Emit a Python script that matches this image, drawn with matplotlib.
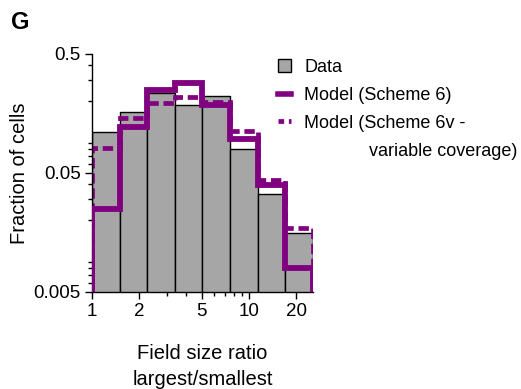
import numpy as np
import matplotlib
matplotlib.use('Agg')
import matplotlib.pyplot as plt
from matplotlib.patches import Patch
from matplotlib.lines import Line2D

plt.rcParams['font.family'] = ['Liberation Sans', 'DejaVu Sans']

# bin edges (field size ratio, log spaced by 1.5)
bin_edges = [1.0, 1.5, 2.25, 3.375, 5.06, 7.59, 11.39, 17.09, 25.6]
# fraction of cells per bin
data_frac = [0.106, 0.159, 0.229, 0.183, 0.216, 0.076, 0.029, 0.0116]
model_s6 = [0.0248, 0.121, 0.249, 0.284, 0.186, 0.096, 0.0396, 0.0079]
model_s6v = [0.081, 0.146, 0.195, 0.219, 0.199, 0.113, 0.044, 0.0171]

x_ticks = [1, 2, 5, 10, 20]
x_minor = [3, 4, 6, 7, 8, 9]
y_ticks = [0.005, 0.05, 0.5]
y_labels = ['0.005', '0.05', '0.5']

purple = '#800080'
gray = '#a6a6a6'

fig = plt.figure(figsize=(5.21, 3.89), dpi=100)
ax = fig.add_axes([0.1766, 0.2494, 0.424, 0.612])

edges = np.array(bin_edges)
ax.bar(edges[:-1], data_frac, width=np.diff(edges), align='edge', bottom=0.004,
       color=gray, edgecolor='black', linewidth=1.0, zorder=1)
ax.stairs(model_s6v, edges, baseline=0.004, color=purple, linewidth=3.4,
          linestyle=(0, (2.2, 1.0)), zorder=2)
ax.stairs(model_s6, edges, baseline=0.004, color=purple, linewidth=4.2, zorder=3)

ax.set_xscale('log')
ax.set_yscale('log')
ax.set_xlim(1, 25.6)
ax.set_ylim(0.005, 0.5)

ax.set_xticks(x_ticks)
ax.set_xticklabels([str(t) for t in x_ticks])
ax.set_xticks(x_minor, minor=True)
ax.xaxis.set_minor_formatter(matplotlib.ticker.NullFormatter())
ax.set_yticks(y_ticks)
ax.set_yticklabels(y_labels)
ax.yaxis.set_minor_locator(matplotlib.ticker.LogLocator(base=10, subs=np.arange(2, 10)))
ax.yaxis.set_minor_formatter(matplotlib.ticker.NullFormatter())

ax.tick_params(which='major', length=5, width=1, labelsize=13.5, pad=3)
ax.tick_params(which='minor', length=3, width=1)
for s in ['top', 'right']:
    ax.spines[s].set_visible(False)
ax.spines['left'].set_linewidth(1)
ax.spines['bottom'].set_linewidth(1)

ax.set_ylabel('Fraction of cells', fontsize=14.5, labelpad=3)
ax.set_xlabel('Field size ratio\nlargest/smallest', fontsize=14.5, labelpad=17,
              linespacing=1.5)

fig.text(0.022, 0.972, 'G', fontsize=17, fontweight='bold', va='top', ha='left')

handles = [Patch(facecolor=gray, edgecolor='black', linewidth=1.0),
           Line2D([], [], color=purple, linewidth=4.0),
           Line2D([], [], color=purple, linewidth=3.4, linestyle=(0, (1.2, 1.0))),
           Line2D([], [], color='none')]
labels = ['Data', 'Model (Scheme 6)', 'Model (Scheme 6v -',
          '             variable coverage)']
fig.legend(handles, labels, loc='upper left', bbox_to_anchor=(0.533, 0.848),
           frameon=False, fontsize=13, handlelength=0.72, handleheight=0.72,
           handletextpad=0.75, labelspacing=0.6, borderaxespad=0, borderpad=0)

fig.savefig('out.png', dpi=100)
